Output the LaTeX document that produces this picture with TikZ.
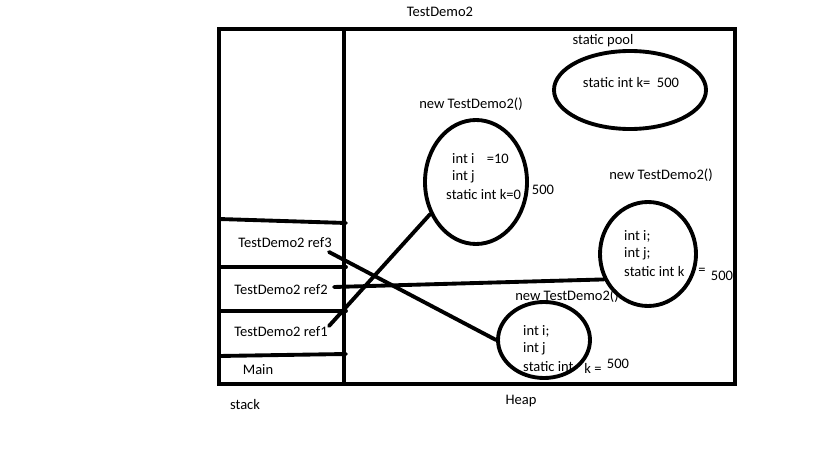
\documentclass[tikz,border=0pt]{standalone}
\usepackage{fontspec}
\setmainfont{Carlito}
\usetikzlibrary{shapes.geometric}
\begin{document}
\begin{tikzpicture}[x=0.03cm,y=-0.03cm,
  thick line/.style={line width=3.3pt, line cap=round},
  obj/.style={draw, ellipse, line width=3.3pt, inner sep=0pt},
  lbl/.style={font=\fontsize{12.4}{14}\selectfont, inner sep=0pt},
]
\useasboundingbox (0,0) rectangle (819,460);
% frame
\draw[line width=3.5pt] (219,29) rectangle (735,384);
\draw[line width=3.5pt] (344,29) -- (344,384);
\draw[thick line] (219,219) -- (346,223);
\draw[thick line] (219,267) -- (346,267);
\draw[thick line] (219,311) -- (346,311);
\draw[thick line] (219,356) -- (346,354);
% titles
\node[lbl] (title) at (440,12) {TestDemo2};
\node[lbl] (stack) at (245,405) {stack};
\node[lbl] (heap) at (521,401) {Heap};
% stack labels
\node[lbl] (ref3) at (285,243) {TestDemo2 ref3};
\node[lbl] (ref2) at (281,290) {TestDemo2 ref2};
\node[lbl] (ref1) at (281,332) {TestDemo2 ref1};
\node[lbl] (main) at (258,370) {Main};
% static pool
\node[obj, minimum width=152\pgflinewidth*0+4.56cm, minimum height=2.34cm] (pool) at (630,90) {};
\node[lbl] (pooltitle) at (603,41) {static pool};
\node[lbl] (poolk) at (631,83) {static int k=\ \ 500};
% object 1
\node[obj, minimum width=3.06cm, minimum height=3.72cm] (o1) at (476,182) {};
\node[lbl] (o1t) at (471,104) {new TestDemo2()};
\node[lbl, anchor=west] (o1i) at (452,159) {int i\ \ \ \,=10};
\node[lbl, anchor=west] (o1j) at (452,177) {int j};
\node[lbl, anchor=west] (o1k) at (446,195) {static int k=0};
\node[lbl] (o1v) at (543,190) {500};
% object 2
\node[obj, minimum width=2.88cm, minimum height=3.12cm] (o2) at (648,254) {};
\node[lbl] (o2t) at (661,175) {new TestDemo2()};
\node[lbl, anchor=west] (o2i) at (624,236) {int i;};
\node[lbl, anchor=west] (o2j) at (624,254) {int j;};
\node[lbl, anchor=west] (o2k) at (624,272) {static int k};
\node[lbl] (o2e) at (702,271) {=};
\node[lbl] (o2v) at (722,276) {500};
% object 3
\node[obj, minimum width=2.76cm, minimum height=2.28cm] (o3) at (544,340) {};
\node[lbl] (o3t) at (567,296) {new TestDemo2()};
\node[lbl, anchor=west] (o3i) at (523,331) {int i;};
\node[lbl, anchor=west] (o3j) at (523,349) {int j};
\node[lbl, anchor=west] (o3k) at (523,367) {static int};
\node[lbl] (o3e) at (593,368) {k =};
\node[lbl] (o3v) at (618,364) {500};
% references
\coordinate (r3) at (329,252);
\coordinate (r2) at (334,287);
\coordinate (r1) at (329,326);
\draw[thick line] (r3) -- (o3.west);
\draw[thick line] (r2) -- (o2.210);
\draw[thick line] (r1) -- (o1.215);
\end{tikzpicture}
\end{document}
